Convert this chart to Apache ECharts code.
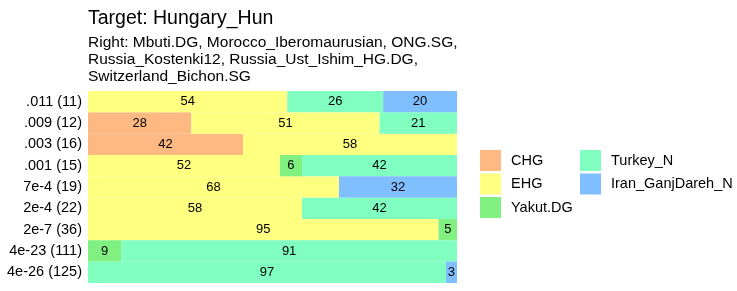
<!DOCTYPE html>
<html>
<head>
<meta charset="utf-8">
<script src="https://cdn.jsdelivr.net/npm/echarts@6/dist/echarts.min.js"></script>
<style>
  html, body { margin: 0; padding: 0; background: #fff; }
  #chart { width: 737px; height: 291px; }
</style>
</head>
<body>
<div id="chart"></div>
<script>
// rows, top to bottom
const rowLabels = ['.011 (11)', '.009 (12)', '.003 (16)', '.001 (15)', '7e-4 (19)', '2e-4 (22)', '2e-7 (36)', '4e-23 (111)', '4e-26 (125)'];
// percent per source, null = not in model
const chg     = [null, 28, 42, null, null, null, null, null, null];
const ehg     = [54, 51, 58, 52, 68, 58, 95, null, null];
const yakut   = [null, null, null, 6, null, null, 5, 9, null];
const turkey  = [26, 21, null, 42, null, 42, null, 91, 97];
const iran    = [20, null, null, null, 32, null, null, null, 3];

const sources = [
  { name: 'CHG', data: chg, color: '#FDB981' },
  { name: 'EHG', data: ehg, color: '#FFFF80' },
  { name: 'Yakut.DG', data: yakut, color: '#80F080' },
  { name: 'Turkey_N', data: turkey, color: '#80FFC0' },
  { name: 'Iran_GanjDareh_N', data: iran, color: '#80BFFF' }
];

const font = '"Liberation Sans", Arial, sans-serif';
const chart = echarts.init(document.getElementById('chart'));

const legendBase = {
  orient: 'vertical', top: 150, padding: 0,
  itemWidth: 21, itemHeight: 21, itemGap: 2.5, icon: 'rect',
  textStyle: { fontFamily: font, fontSize: 14.5, color: '#000', padding: [0, 0, 0, 5] }
};

chart.setOption({
  animation: false,
  title: {
    text: 'Target: Hungary_Hun',
    subtext: 'Right: Mbuti.DG, Morocco_Iberomaurusian, ONG.SG,\nRussia_Kostenki12, Russia_Ust_Ishim_HG.DG,\nSwitzerland_Bichon.SG',
    left: 83, top: 4, itemGap: 5,
    textStyle: { fontFamily: font, fontSize: 19.5, fontWeight: 'normal', color: '#000' },
    subtextStyle: { fontFamily: font, fontSize: 15.5, color: '#000', lineHeight: 17 }
  },
  legend: [
    Object.assign({ data: ['CHG', 'EHG', 'Yakut.DG'], left: 480 }, legendBase),
    Object.assign({ data: ['Turkey_N', 'Iran_GanjDareh_N'], left: 580 }, legendBase)
  ],
  grid: { left: 88, right: 280, top: 91, bottom: 8, containLabel: false },
  xAxis: { type: 'value', min: 0, max: 100, show: false },
  yAxis: {
    type: 'category', data: rowLabels, inverse: true,
    axisLine: { show: false }, axisTick: { show: false }, splitLine: { show: false },
    axisLabel: { fontFamily: font, fontSize: 14.5, color: '#000', margin: 6 }
  },
  series: sources.map(s => ({
    name: s.name, type: 'bar', stack: 'all', data: s.data,
    barCategoryGap: 0,
    itemStyle: { color: s.color },
    label: { show: true, position: 'inside', fontFamily: font, fontSize: 13, color: '#000' }
  }))
});
</script>
</body>
</html>
